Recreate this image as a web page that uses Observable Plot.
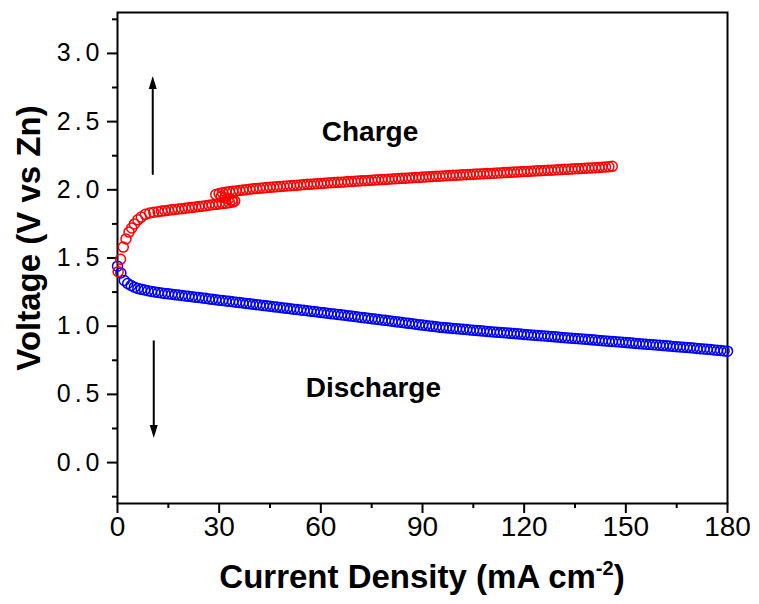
<!DOCTYPE html>
<html><head><meta charset="utf-8">
<script src="https://cdn.jsdelivr.net/npm/d3@7"></script>
<script src="https://cdn.jsdelivr.net/npm/@observablehq/plot@0.6"></script>
<style>
html,body{margin:0;padding:0;background:#fff;overflow:hidden}
svg{display:block}
</style></head>
<body><div id="chart"></div>
<script>
// Charge curve (red): x = current density (mA cm^-2), y = voltage (V vs Zn)
const chargeX = [0.2,0.9,1.7,2.5,3.4,4.2,5,6,7,8.2,9.5,10.7,
  12,13,14,15,16,17,18,19,20,21,22,23,24,25,26,27,28,29,30,31,32,33,34,
  34.6,33.8,32.8,31.7,30.6,
  29,30,31,32,33,34,35,36,37,38,39,40,41,42,43,44,45,46,47,48,
  49,50,51,52,53,54,55,56,57,58,59,60,61,62,63,64,65,66,67,68,
  69,70,71,72,73,74,75,76,77,78,79,80,81,82,83,84,85,86,87,88,
  89,90,91,92,93,94,95,96,97,98,99,100,101,102,103,104,105,106,107,108,
  109,110,111,112,113,114,115,116,117,118,119,120,121,122,123,124,125,126,127,128,
  129,130,131,132,133,134,135,136,137,138,139,140,141,142,143,144,145,146];
const chargeY = [1.40,1.49,1.58,1.64,1.69,1.72,1.75,1.78,1.80,1.82,1.83,1.835,
  1.840,1.844,1.847,1.850,1.853,1.856,1.859,1.862,1.865,1.868,1.871,1.874,1.877,1.880,1.884,1.887,1.890,1.893,1.896,1.899,1.902,1.906,1.910,
  1.918,1.926,1.934,1.942,1.950,
  1.966,1.973,1.978,1.982,1.986,1.989,1.992,1.995,1.998,2.001,2.004,2.007,2.009,2.012,2.014,2.016,2.018,2.020,2.022,2.024,
  2.026,2.028,2.030,2.032,2.034,2.036,2.038,2.040,2.041,2.043,2.045,2.047,2.048,2.050,2.052,2.053,2.055,2.056,2.058,2.060,
  2.061,2.063,2.064,2.066,2.067,2.069,2.070,2.072,2.073,2.075,2.076,2.078,2.079,2.081,2.082,2.084,2.085,2.087,2.088,2.090,
  2.091,2.093,2.094,2.096,2.097,2.099,2.100,2.101,2.103,2.104,2.106,2.107,2.108,2.110,2.111,2.112,2.114,2.115,2.116,2.118,
  2.119,2.120,2.122,2.123,2.124,2.126,2.127,2.128,2.130,2.131,2.132,2.134,2.135,2.136,2.138,2.139,2.140,2.142,2.143,2.144,
  2.146,2.147,2.148,2.150,2.151,2.152,2.154,2.155,2.156,2.158,2.159,2.160,2.162,2.163,2.165,2.167,2.169,2.172];

// Discharge curve (blue)
const dischargeX = [0,1,2,3,4,5,6,7,8,9,10,11,12,13,14,15,16,17,18,19,
  20,21,22,23,24,25,26,27,28,29,30,31,32,33,34,35,36,37,38,39,
  40,41,42,43,44,45,46,47,48,49,50,51,52,53,54,55,56,57,58,59,
  60,61,62,63,64,65,66,67,68,69,70,71,72,73,74,75,76,77,78,79,
  80,81,82,83,84,85,86,87,88,89,90,91,92,93,94,95,96,97,98,99,
  100,101,102,103,104,105,106,107,108,109,110,111,112,113,114,115,116,117,118,119,
  120,121,122,123,124,125,126,127,128,129,130,131,132,133,134,135,136,137,138,139,
  140,141,142,143,144,145,146,147,148,149,150,151,152,153,154,155,156,157,158,159,
  160,161,162,163,164,165,166,167,168,169,170,171,172,173,174,175,176,177,178,179,180];
const dischargeY = [1.44,1.39,1.335,1.313,1.298,1.286,1.277,1.270,1.265,1.260,
  1.255,1.251,1.247,1.243,1.240,1.237,1.234,1.231,1.228,1.225,
  1.222,1.219,1.216,1.213,1.210,1.207,1.204,1.200,1.197,1.194,
  1.191,1.188,1.185,1.182,1.179,1.176,1.173,1.170,1.167,1.164,
  1.161,1.158,1.155,1.152,1.149,1.146,1.143,1.140,1.137,1.134,
  1.131,1.128,1.125,1.122,1.119,1.116,1.113,1.110,1.107,1.104,
  1.101,1.098,1.095,1.092,1.089,1.086,1.083,1.080,1.077,1.074,
  1.071,1.068,1.064,1.061,1.058,1.055,1.052,1.049,1.046,1.043,
  1.040,1.037,1.033,1.030,1.027,1.024,1.021,1.018,1.014,1.011,
  1.008,1.005,1.002,0.999,0.996,0.993,0.991,0.988,0.986,0.984,
  0.982,0.979,0.977,0.975,0.972,0.970,0.968,0.966,0.964,0.962,
  0.960,0.958,0.956,0.954,0.952,0.950,0.948,0.946,0.944,0.942,
  0.940,0.938,0.936,0.934,0.932,0.930,0.928,0.926,0.924,0.922,
  0.920,0.918,0.916,0.914,0.912,0.910,0.908,0.906,0.904,0.902,
  0.900,0.898,0.896,0.894,0.892,0.890,0.888,0.886,0.884,0.882,
  0.880,0.878,0.876,0.874,0.872,0.870,0.868,0.866,0.864,0.862,
  0.860,0.858,0.856,0.854,0.852,0.850,0.848,0.846,0.844,0.842,
  0.840,0.837,0.835,0.833,0.831,0.829,0.826,0.824,0.822,0.819,
  0.817];

// Axes
const xTicks = [0,30,60,90,120,150,180];
const xMinorTicks = [15,45,75,105,135,165];
const yTicks = [0,0.5,1,1.5,2,2.5,3];
const yMinorTicks = [-0.25,0.25,0.75,1.25,1.75,2.25,2.75,3.25];
const xTitle = "Current Density (mA cm";
const xTitleSup = "-2";
const yTitle = "Voltage (V vs Zn)";

// Annotations
const labelText = ["Charge","Discharge"];
const labelX = [74.5,75.5];
const labelY = [2.42,0.55];
const arrowX = [10.4,10.7];
const arrowFrom = [2.115,0.89];
const arrowTo = [2.835,0.18];

const charge = chargeX.map((x,i)=>({x, y: chargeY[i]}));
const discharge = dischargeX.map((x,i)=>({x, y: dischargeY[i]}));
const labels = labelText.map((t,i)=>({t, x: labelX[i], y: labelY[i]}));
const arrows = arrowX.map((x,i)=>({x, y1: arrowFrom[i], y2: arrowTo[i], up: arrowTo[i] > arrowFrom[i]}));

const upHead = {draw(ctx){ ctx.moveTo(0,0); ctx.lineTo(4,13); ctx.lineTo(-4,13); ctx.closePath(); }};
const downHead = {draw(ctx){ ctx.moveTo(0,0); ctx.lineTo(4,-13); ctx.lineTo(-4,-13); ctx.closePath(); }};

const font = "'Liberation Sans', Arial, sans-serif";

const chart = Plot.plot({
  width: 759, height: 604,
  marginLeft: 117, marginRight: 32, marginTop: 12, marginBottom: 101,
  x: {domain: [0,180]},
  y: {domain: [-0.3,3.3]},
  style: {fontFamily: font, color: "black", background: "white", overflow: "visible"},
  marks: [
    Plot.frame({stroke: "black", strokeWidth: 2}),
    Plot.axisX({ticks: xTicks, tickSize: 10, tickPadding: 3, fontSize: 28, strokeWidth: 2, label: null, tickFormat: d => String(d)}),
    Plot.axisX({ticks: xMinorTicks, tickSize: 5, strokeWidth: 2, text: null, label: null}),
    Plot.axisY({ticks: yTicks, tickSize: 10, tickPadding: 4, fontSize: 25, strokeWidth: 2, label: null, tickFormat: d => d.toFixed(1)}),
    Plot.axisY({ticks: yMinorTicks, tickSize: 5, strokeWidth: 2, text: null, label: null}),
    Plot.dot(discharge, {x: "x", y: "y", r: 5, stroke: "blue", strokeWidth: 1.5, fill: "none"}),
    Plot.dot(charge, {x: "x", y: "y", r: 5, stroke: "red", strokeWidth: 1.5, fill: "none"}),
    Plot.arrow(arrows, {x1: "x", x2: "x", y1: "y1", y2: "y2", stroke: "black", strokeWidth: 2, headLength: 0, insetEnd: 10}),
    Plot.dot(arrows.filter(d => d.up), {x: "x", y: "y2", r: 1, symbol: upHead, fill: "black", stroke: "none"}),
    Plot.dot(arrows.filter(d => !d.up), {x: "x", y: "y2", r: 1, symbol: downHead, fill: "black", stroke: "none"}),
    Plot.text(labels, {x: "x", y: "y", text: "t", fontSize: 28, fontWeight: "bold", fill: "black"}),
    Plot.text([yTitle], {frameAnchor: "left", textAnchor: "middle", dx: -88, dy: -20, rotate: -90, fontSize: 33, fontWeight: "bold", fill: "black"})
  ]
});
document.getElementById("chart").appendChild(chart);

// widen y tick labels' spacing like the reference
d3.select(chart).selectAll('g[aria-label="y-axis tick label"] text').style("letter-spacing", "4px");

// X title with superscript
const xs = chart.scale("x");
const t = d3.select(chart).append("text")
  .attr("x", (xs.range[0] + xs.range[1]) / 2)
  .attr("y", 588)
  .attr("text-anchor", "middle")
  .attr("font-family", font)
  .attr("font-size", 33)
  .attr("font-weight", "bold")
  .attr("fill", "black");
t.append("tspan").text(xTitle);
t.append("tspan").attr("font-size", 20).attr("dy", -13).text(xTitleSup);
t.append("tspan").attr("dy", 13).text(")");
</script>
</body></html>
